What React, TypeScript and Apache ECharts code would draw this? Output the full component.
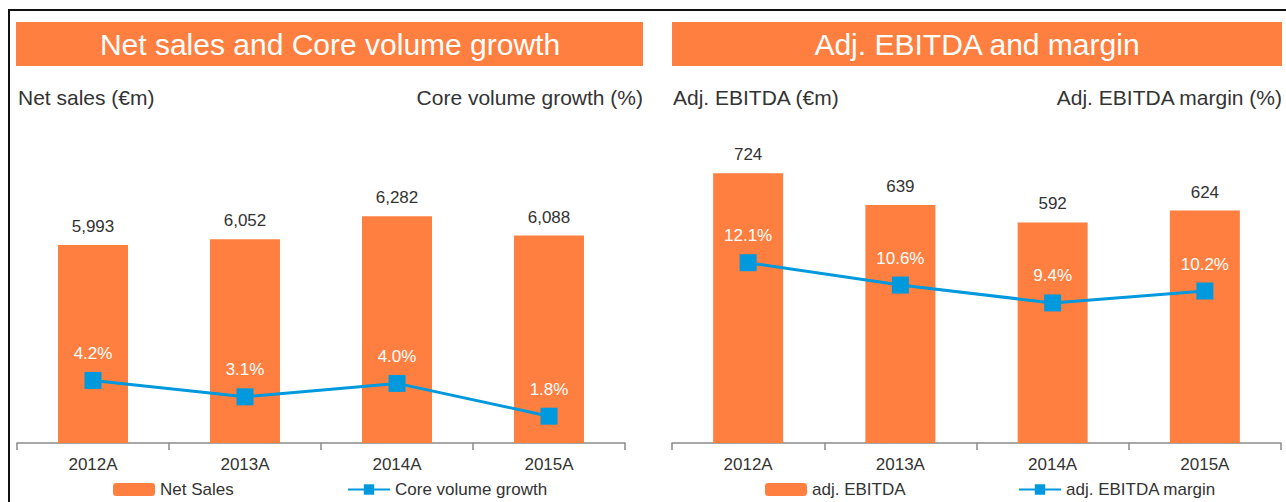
import React, { useEffect, useRef } from "react";
import * as echarts from "echarts";

const categories = ["2012A", "2013A", "2014A", "2015A"];
const netSales = [5993, 6052, 6282, 6088];
const coreVolumeGrowth = [4.2, 3.1, 4.0, 1.8];
const adjEbitda = [724, 639, 592, 624];
const adjEbitdaMargin = [12.1, 10.6, 9.4, 10.2];

const ORANGE = "#FF7F40";
const BLUE = "#0099DD";
const TEXT = "#333333";
const FONT = '"Liberation Sans", Arial, sans-serif';

export default function App() {
  const ref = useRef<HTMLDivElement>(null);

  useEffect(() => {
    if (!ref.current) return;
    const chart = echarts.init(ref.current, undefined, { renderer: "svg" });

    const xAxisBase = {
      type: "category" as const,
      data: categories,
      boundaryGap: true,
      axisLine: { show: true, lineStyle: { color: "#8a8a8a", width: 1.5 } },
      axisTick: { show: true, length: 7, lineStyle: { color: "#8a8a8a", width: 1.5 } },
      axisLabel: { color: TEXT, fontSize: 17, fontFamily: FONT, margin: 13 },
    };
    const hiddenY = {
      type: "value" as const,
      show: false,
      splitLine: { show: false },
    };

    const barLabel = {
      show: true,
      position: "top" as const,
      distance: 10,
      color: TEXT,
      fontSize: 17,
      fontFamily: FONT,
      formatter: (p: any) => Number(p.value).toLocaleString("en-US"),
    };
    const lineLabel = {
      show: true,
      position: "top" as const,
      distance: 10,
      color: "#ffffff",
      fontSize: 17,
      fontFamily: FONT,
      formatter: (p: any) => Number(p.value).toFixed(1) + "%",
    };
    const lineBase = {
      type: "line" as const,
      symbol: "rect",
      symbolSize: 17,
      itemStyle: { color: BLUE },
      lineStyle: { color: BLUE, width: 3 },
      label: lineLabel,
      z: 5,
    };
    const barBase = {
      type: "bar" as const,
      barWidth: 70,
      itemStyle: { color: ORANGE },
      label: barLabel,
    };
    const legendBase = {
      top: 481,
      itemWidth: 42,
      itemHeight: 13,
      padding: 0,
      textStyle: { color: TEXT, fontSize: 17, fontFamily: FONT },
    };

    chart.setOption({
      animation: false,
      textStyle: { fontFamily: FONT },
      grid: [
        { left: 17, top: 145, width: 608, height: 298, containLabel: false },
        { left: 672, top: 145, width: 609, height: 298, containLabel: false },
      ],
      xAxis: [
        { ...xAxisBase, gridIndex: 0 },
        { ...xAxisBase, gridIndex: 1 },
      ],
      yAxis: [
        { ...hiddenY, gridIndex: 0, min: 4000, max: 7000 },
        { ...hiddenY, gridIndex: 0, min: 0, max: 20 },
        { ...hiddenY, gridIndex: 1, min: 0, max: 800 },
        { ...hiddenY, gridIndex: 1, min: 0, max: 20 },
      ],
      legend: [
        { ...legendBase, left: 113, data: ["Net Sales"] },
        { ...legendBase, left: 347, data: ["Core volume growth"] },
        { ...legendBase, left: 765, data: ["adj. EBITDA"] },
        { ...legendBase, left: 1018, data: ["adj. EBITDA margin"] },
      ],
      series: [
        { ...barBase, name: "Net Sales", xAxisIndex: 0, yAxisIndex: 0, data: netSales },
        { ...lineBase, name: "Core volume growth", xAxisIndex: 0, yAxisIndex: 1, data: coreVolumeGrowth },
        { ...barBase, name: "adj. EBITDA", xAxisIndex: 1, yAxisIndex: 2, data: adjEbitda },
        { ...lineBase, name: "adj. EBITDA margin", xAxisIndex: 1, yAxisIndex: 3, data: adjEbitdaMargin },
      ],
      graphic: [
        { type: "rect", shape: { x: 8, y: 9, width: 1278, height: 2 }, style: { fill: "#111" } },
        { type: "rect", shape: { x: 8, y: 9, width: 2, height: 493 }, style: { fill: "#111" } },
        { type: "rect", shape: { x: 16, y: 22, width: 627, height: 44 }, style: { fill: ORANGE } },
        { type: "rect", shape: { x: 672, y: 22, width: 610, height: 44 }, style: { fill: ORANGE } },
        {
          type: "text",
          x: 330,
          y: 44,
          style: { text: "Net sales and Core volume growth", fill: "#fff", fontSize: 30, fontFamily: FONT, align: "center", verticalAlign: "middle" },
        },
        {
          type: "text",
          x: 977,
          y: 44,
          style: { text: "Adj. EBITDA and margin", fill: "#fff", fontSize: 30, fontFamily: FONT, align: "center", verticalAlign: "middle" },
        },
        {
          type: "text",
          x: 18,
          y: 97,
          style: { text: "Net sales (€m)", fill: TEXT, fontSize: 21, fontFamily: FONT, align: "left", verticalAlign: "middle" },
        },
        {
          type: "text",
          x: 643,
          y: 97,
          style: { text: "Core volume growth (%)", fill: TEXT, fontSize: 21, fontFamily: FONT, align: "right", verticalAlign: "middle" },
        },
        {
          type: "text",
          x: 673,
          y: 97,
          style: { text: "Adj. EBITDA (€m)", fill: TEXT, fontSize: 21, fontFamily: FONT, align: "left", verticalAlign: "middle" },
        },
        {
          type: "text",
          x: 1282,
          y: 97,
          style: { text: "Adj. EBITDA margin (%)", fill: TEXT, fontSize: 21, fontFamily: FONT, align: "right", verticalAlign: "middle" },
        },
      ],
    });

    return () => chart.dispose();
  }, []);

  return (
    <div
      ref={ref}
      style={{ position: "fixed", left: 0, top: 0, width: 1286, height: 502, background: "#fff" }}
    />
  );
}
